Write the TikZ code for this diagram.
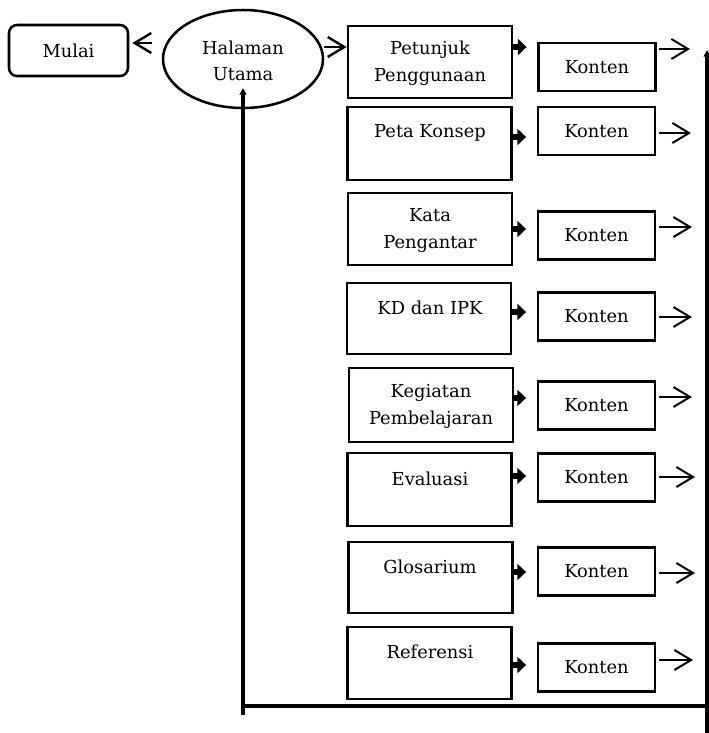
\documentclass[tikz,border=0pt]{standalone}
\usepackage{fontspec}
\setmainfont{DejaVu Serif}
\usetikzlibrary{arrows.meta,shapes.geometric}
\begin{document}
\begin{tikzpicture}[x=0.75pt,y=-0.75pt,
  every node/.style={font=\fontsize{13.4pt}{20pt}\selectfont},
  menubox/.style={draw, line width=1.9pt, minimum width=123pt, inner sep=0pt},
  kontenbox/.style={draw, line width=1.9pt, minimum width=87.75pt, minimum height=36pt, inner sep=0pt},
  lbl/.style={align=center, inner sep=0pt},
  fat/.style={line width=5pt, shorten >=8pt, -{Triangle[length=6.5pt,width=12pt]}},
  open/.style={line width=1.5pt, -{Straight Barb[length=12.5pt,width=15pt]}},
  loopline/.style={line width=2.3pt},
]
\useasboundingbox (0,0) rectangle (709,733);

% start and home
\node[draw, rounded corners=6pt, line width=1.9pt, minimum width=89.25pt, minimum height=38.25pt, inner sep=0pt] (mulai) at (68.5,50.5) {};
\node[lbl] at (68.5,51) {Mulai};
\node[ellipse, draw, line width=1.9pt, minimum width=120pt, minimum height=73.5pt, inner sep=0pt] (home) at (243,59) {};
\node[lbl] at (243,61) {Halaman\\Utama};

% menu boxes
\node[menubox, minimum height=54pt]    (m1) at (430,62) {};
\node[menubox, minimum height=54.75pt] (m2) at (429.5,143.5) {};
\node[menubox, minimum height=54pt]    (m3) at (430,229) {};
\node[menubox, minimum height=53.25pt] (m4) at (429,318.5) {};
\node[menubox, minimum height=55.5pt]  (m5) at (431,405) {};
\node[menubox, minimum height=54.75pt] (m6) at (429.5,489.5) {};
\node[menubox, minimum height=53.25pt] (m7) at (430.5,577.5) {};
\node[menubox, minimum height=54pt]    (m8) at (429.5,663) {};

\node[lbl] at (430,63.5)  {Petunjuk\\Penggunaan};
\node[lbl] at (430,133)   {Peta Konsep};
\node[lbl] at (430,230.5) {Kata\\Pengantar};
\node[lbl] at (430,308)   {KD dan IPK};
\node[lbl] at (431,406.5) {Kegiatan\\Pembelajaran};
\node[lbl] at (430,479)   {Evaluasi};
\node[lbl] at (430,567)   {Glosarium};
\node[lbl] at (430,652)   {Referensi};

% konten boxes
\node[kontenbox] (k1) at (597,67)    {Konten};
\node[kontenbox] (k2) at (596.5,131) {Konten};
\node[kontenbox] (k3) at (596.5,235.5) {Konten};
\node[kontenbox] (k4) at (596.5,316.5) {Konten};
\node[kontenbox] (k5) at (596.5,405.5) {Konten};
\node[kontenbox] (k6) at (596.5,477.5) {Konten};
\node[kontenbox] (k7) at (596.5,571.5) {Konten};
\node[kontenbox] (k8) at (596.5,667.5) {Konten};

% arrows from home
\draw[open, line width=1.8pt, shorten <=7.5pt, shorten >=2.25pt] (home.west |- 0,43) -- (mulai.east |- 0,43);
\draw[open, line width=1.8pt] (home.east |- 0,47) -- (m1.west |- 0,47);

% fat arrows
\draw[fat] (m1.east |- 0,47)  -- (k1.west |- 0,47);
\draw[fat] (m2.east |- 0,137) -- (k2.west |- 0,137);
\draw[fat] (m3.east |- 0,229) -- (k3.west |- 0,229);
\draw[fat] (m4.east |- 0,312) -- (k4.west |- 0,312);
\draw[fat] (m5.east |- 0,398) -- (k5.west |- 0,398);
\draw[fat] (m6.east |- 0,476) -- (k6.west |- 0,476);
\draw[fat] (m7.east |- 0,572) -- (k7.west |- 0,572);
\draw[fat] (m8.east |- 0,665) -- (k8.west |- 0,665);

% open arrows to the return line
\coordinate (o1) at (690,49);
\coordinate (o2) at (691,133);
\coordinate (o3) at (692,227);
\coordinate (o4) at (692,317);
\coordinate (o5) at (692,397);
\coordinate (o6) at (695,477);
\coordinate (o7) at (695,573);
\coordinate (o8) at (693,660);
\foreach \i in {1,...,8} {
  \draw[open, shorten <=2pt] (k\i.east |- o\i) -- (o\i);
}

% return loop
\coordinate (bl) at (243,715);
\coordinate (hl) at (241,706);
\coordinate (hr) at (709,706);
\coordinate (rb) at (707,733);
\coordinate (rt) at (707,50);
\draw[loopline, -{Triangle[length=5pt,width=5pt]}] (bl) -- (home.south |- 0,88);
\draw[line width=3pt] (hl) -- (hr);
\draw[loopline, -{Triangle[length=5pt,width=5pt]}] (rb) -- (rt);
\end{tikzpicture}
\end{document}
